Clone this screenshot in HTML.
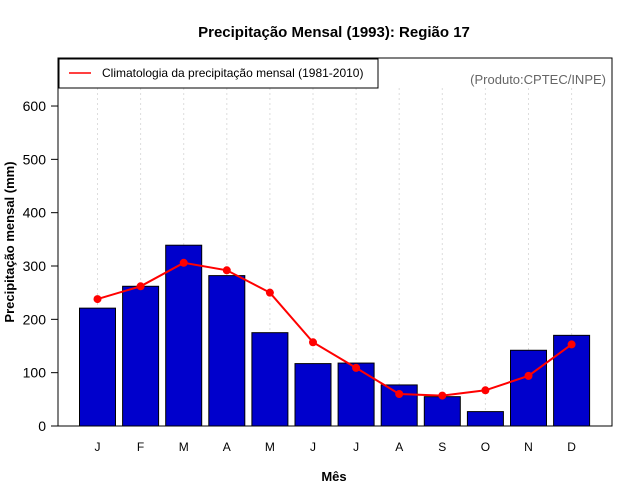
<!DOCTYPE html>
<html><head><meta charset="utf-8"><style>
body{margin:0;background:#fff;}
svg{display:block;font-family:"Liberation Sans",sans-serif;}
</style></head><body>
<svg id="chart" width="640" height="500">
<text x="334" y="37" text-anchor="middle" font-size="15" font-weight="bold">Precipitação Mensal (1993): Região 17</text>
<g id="grid"></g>
<g id="bars"></g>
<g id="line"></g>
<rect x="58" y="58" width="554" height="368" fill="none" stroke="#000" stroke-width="1"/>
<g id="yaxis"></g>
<g id="xaxis"></g>
<text x="334" y="481" text-anchor="middle" font-size="13" font-weight="bold">Mês</text>
<text transform="translate(14,242) rotate(-90)" text-anchor="middle" font-size="13" font-weight="bold">Precipitação mensal (mm)</text>
<g>
<rect x="59" y="59" width="319" height="29" fill="#fff" stroke="#000"/>
<line x1="69" y1="73" x2="91" y2="73" stroke="red" stroke-width="1.5"/>
<text x="102" y="77" font-size="12">Climatologia da precipitação mensal (1981-2010)</text>
</g>
<text x="606" y="84" text-anchor="end" font-size="13" fill="#666">(Produto:CPTEC/INPE)</text>
</svg>
<script>
const months = ["J","F","M","A","M","J","J","A","S","O","N","D"];
const observed = [221,262,339,282,175,117,118,77,55,27,142,170];
const climatology = [238,262,306,292,250,157,109,60,57,67,94,153];
const yTicks = [0,100,200,300,400,500,600];
const NS="http://www.w3.org/2000/svg";
const xs = i => 97.5 + i*43.1;
const ys = v => 426 - v*0.5333;
function mk(tag, attrs, parent){const e=document.createElementNS(NS,tag);for(const k in attrs)e.setAttribute(k,attrs[k]);document.getElementById(parent).appendChild(e);return e;}
months.forEach((m,i)=>{
  const g=mk("line",{x1:xs(i),x2:xs(i),y1:88,y2:426,stroke:"#ddd","stroke-dasharray":"2,3"},"grid");
  
  
  const b=mk("rect",{x:xs(i)-18,y:ys(observed[i]),width:36,height:426-ys(observed[i]),fill:"#0000cc",stroke:"#000"},"bars");
  
  
  const t=mk("text",{x:xs(i),y:451,"text-anchor":"middle","font-size":"12"},"xaxis");
  t.textContent=m;
  
  
});
const pl=mk("polyline",{points:climatology.map((v,i)=>xs(i)+","+ys(v)).join(" "),fill:"none",stroke:"red","stroke-width":2},"line");


climatology.forEach((v,i)=>{
  const c=mk("circle",{cx:xs(i),cy:ys(v),r:4,fill:"red"},"line");
  
  
});
const ax=mk("line",{x1:58,x2:58,y1:ys(0),y2:ys(600),stroke:"#000"},"yaxis");


yTicks.forEach(v=>{
  const tk=mk("line",{x1:51,x2:58,y1:ys(v),y2:ys(v),stroke:"#000"},"yaxis");
  
  
  const t=mk("text",{x:46,y:ys(v)+5,"text-anchor":"end","font-size":"14"},"yaxis");
  t.textContent=v;
  
  
});
</script>
</body></html>
